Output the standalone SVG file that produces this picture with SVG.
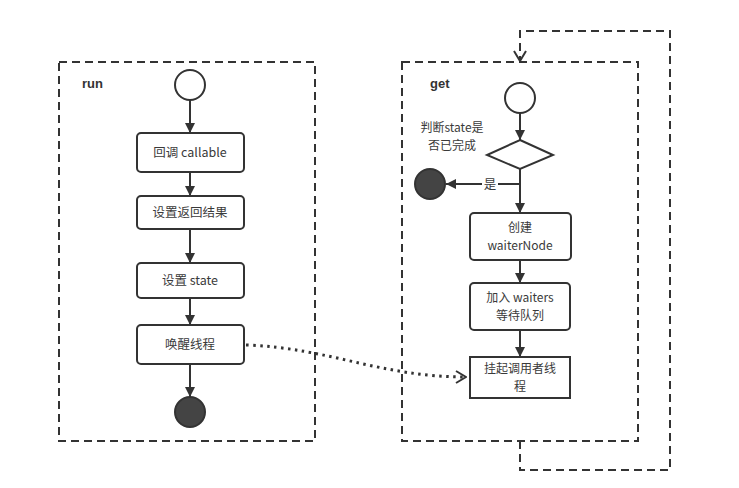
<svg xmlns="http://www.w3.org/2000/svg" width="739" height="488" viewBox="0 0 739 488">
<style>
.frame{fill:none;stroke:#333;stroke-width:2;stroke-dasharray:8 5}
.box{fill:#fff;stroke:#333;stroke-width:2}
.start{fill:#fff;stroke:#333;stroke-width:2}
.end{fill:#444;stroke:#333;stroke-width:2}
.line{fill:none;stroke:#333;stroke-width:2}
.dot{fill:none;stroke:#333;stroke-width:3;stroke-dasharray:2.5 4.5}
.t{font-family:"Noto Sans CJK SC","Liberation Sans",sans-serif;font-size:12.5px;fill:#3a3a3a;text-anchor:middle}
.t2{font-family:"Noto Sans CJK SC","Liberation Sans",sans-serif;font-size:12px;fill:#3a3a3a;text-anchor:middle}
.title{font-family:"Liberation Sans",sans-serif;font-size:13px;font-weight:bold;fill:#333}
</style>
<defs>
<marker id="arr" viewBox="0 0 10 10" refX="10" refY="5" markerWidth="10" markerHeight="10" markerUnits="userSpaceOnUse" orient="auto">
<path d="M0,0 L10,5 L0,10 Z" fill="#333"/>
</marker>
<marker id="open" viewBox="0 0 12 14" refX="11" refY="7" markerWidth="12" markerHeight="14" markerUnits="userSpaceOnUse" orient="auto">
<path d="M1,1 L11,7 L1,13" fill="none" stroke="#333" stroke-width="2"/>
</marker>
</defs>
<rect width="739" height="488" fill="#fff"/>

<g id="run-frame">
<rect class="frame" x="59" y="62" width="256" height="379"/>
<text class="title" x="82" y="88">run</text>
</g>
<g id="get-frame">
<rect class="frame" x="402" y="62" width="236" height="379"/>
<text class="title" x="430" y="88">get</text>
</g>

<g id="connectors">
<line class="line" x1="190" y1="100" x2="190" y2="133" marker-end="url(#arr)"/>
<line class="line" x1="190" y1="172" x2="190" y2="196" marker-end="url(#arr)"/>
<line class="line" x1="190" y1="229" x2="190" y2="263" marker-end="url(#arr)"/>
<line class="line" x1="190" y1="298" x2="190" y2="325" marker-end="url(#arr)"/>
<line class="line" x1="190" y1="364" x2="190" y2="397" marker-end="url(#arr)"/>
<line class="line" x1="520" y1="113" x2="520" y2="140" marker-end="url(#arr)"/>
<line class="line" x1="520" y1="169" x2="520" y2="213" marker-end="url(#arr)"/>
<line class="line" x1="520" y1="184" x2="446" y2="184" marker-end="url(#arr)"/>
<line class="line" x1="520" y1="260" x2="520" y2="283" marker-end="url(#arr)"/>
<line class="line" x1="520" y1="330" x2="520" y2="357" marker-end="url(#arr)"/>
<path class="dot" d="M246,345 C330,348 380,377 466,377" marker-end="url(#open)"/>
<path class="frame" d="M520,441 L520,470 L670,470 L670,31 L520,31 L520,61" marker-end="url(#open)"/>
<rect x="482" y="177" width="16" height="14" fill="#fff"/>
<text class="t" x="490" y="189">是</text>
</g>

<g id="run-start"><circle class="start" cx="190" cy="85" r="15"/></g>
<g id="callable"><rect class="box" x="137" y="133" width="107" height="39" rx="4"/><text class="t" x="190" y="157">回调 callable</text></g>
<g id="set-result"><rect class="box" x="137" y="196" width="107" height="33" rx="4"/><text class="t" x="190" y="217">设置返回结果</text></g>
<g id="set-state"><rect class="box" x="137" y="263" width="107" height="35" rx="4"/><text class="t" x="190" y="285">设置 state</text></g>
<g id="wake"><rect class="box" x="137" y="325" width="107" height="39" rx="4"/><text class="t" x="190" y="349">唤醒线程</text></g>
<g id="run-end"><circle class="end" cx="190" cy="412" r="15"/></g>

<g id="get-start"><circle class="start" cx="520" cy="98" r="15"/></g>
<g id="decision">
<polygon class="box" points="520,140 553,155 520,169 487,155"/>
<text class="t2" x="452" y="132">判断state是</text>
<text class="t2" x="452" y="150">否已完成</text>
</g>
<g id="get-end"><circle class="end" cx="430" cy="184" r="15"/></g>
<g id="create"><rect class="box" x="470" y="213" width="101" height="47" rx="4"/><text class="t2" x="520" y="232">创建</text><text class="t2" x="520" y="250">waiterNode</text></g>
<g id="enqueue"><rect class="box" x="470" y="283" width="100" height="47" rx="4"/><text class="t2" x="520" y="302">加入 waiters</text><text class="t2" x="520" y="320">等待队列</text></g>
<g id="park"><rect class="box" x="470" y="357" width="100" height="41"/><text class="t2" x="520" y="373">挂起调用者线</text><text class="t2" x="520" y="391">程</text></g>
</svg>
